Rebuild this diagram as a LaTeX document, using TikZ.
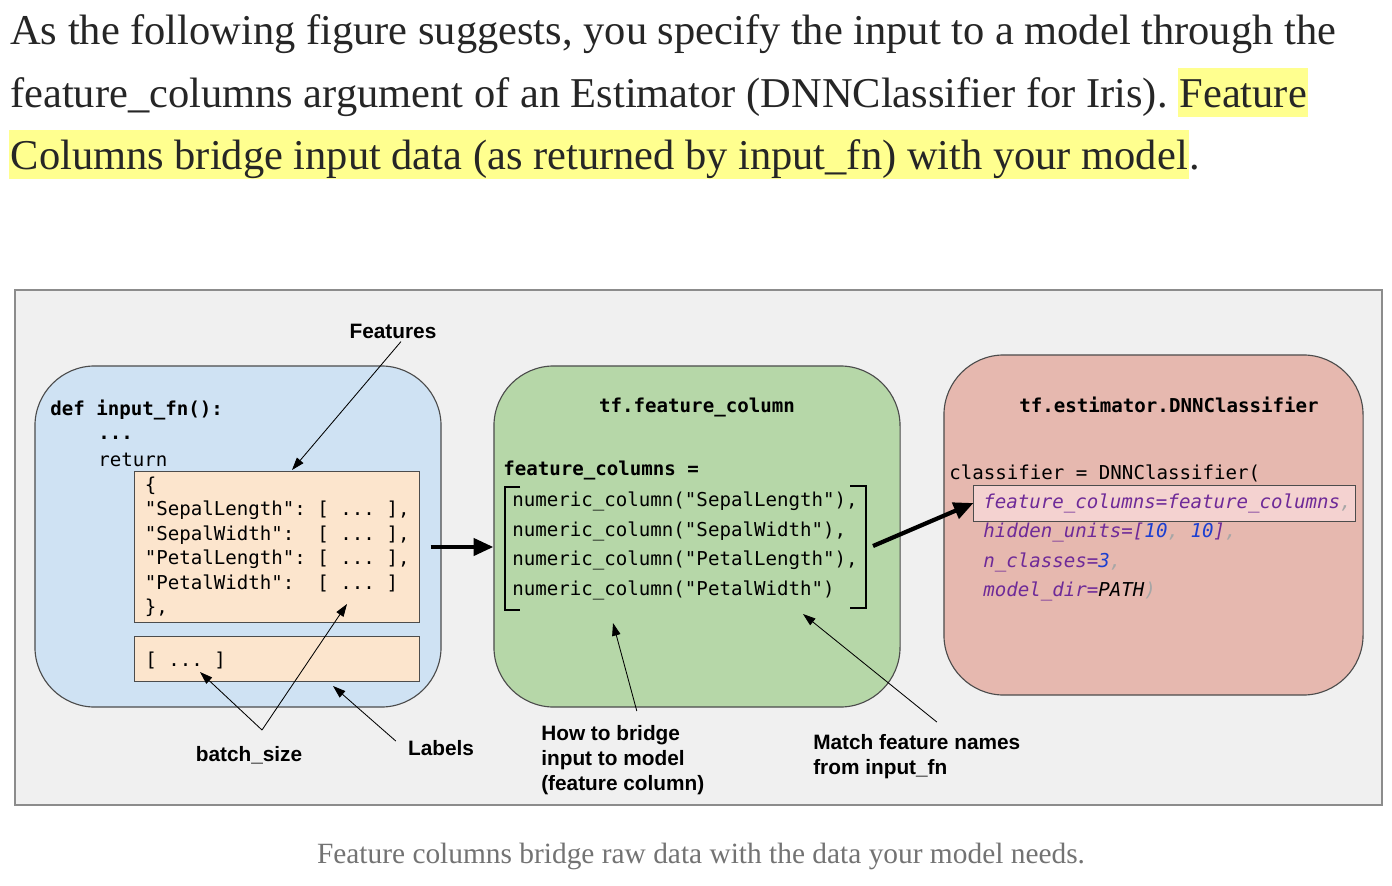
\documentclass[tikz,border=0pt]{standalone}
\usepackage{fontspec}
\setmainfont{Liberation Serif}
\setsansfont{Liberation Sans}
\setmonofont{DejaVu Sans Mono}
\usetikzlibrary{positioning, calc, arrows.meta}

\definecolor{paneback}{HTML}{F0F0F0}
\definecolor{inputblue}{HTML}{CFE2F3}
\definecolor{columngreen}{HTML}{B6D7A8}
\definecolor{modelred}{HTML}{E6B8AF}
\definecolor{dictorange}{HTML}{FCE5CD}
\definecolor{argpink}{HTML}{F4D2D0}
\definecolor{kwpurple}{HTML}{6E2A98}
\definecolor{numblue}{HTML}{1C3FD0}
\definecolor{markyellow}{HTML}{FFFF8F}
\definecolor{bodytext}{HTML}{262626}

\tikzset{
  para/.style={font=\fontsize{30.2}{40}\selectfont, text=bodytext, inner sep=0, anchor=base west},
  marked/.style={fill=markyellow, inner xsep=1pt, inner ysep=0, text height=1.0cm, text depth=0.22cm},
  box/.style={draw=black!70, line width=0.8pt, rounded corners=1.5cm},
  inbox/.style={draw=black!70, fill=dictorange, line width=0.7pt},
  code/.style={font=\fontsize{13.6}{21}\selectfont\ttfamily, align=left, inner sep=0},
  tag/.style={font=\fontsize{14.8}{17.8}\selectfont\sffamily\bfseries, align=left, inner sep=0},
  pointer/.style={-{Triangle[length=9pt,width=6pt]}, line width=0.6pt},
  flow/.style={-{Triangle[length=14pt,width=12pt]}, line width=3pt},
}

\begin{document}
\begin{tikzpicture}[x=0.025cm, y=-0.025cm]
    \fill[white] (0,0) rectangle (1392,886);
    \useasboundingbox (0,0) rectangle (1392,886);

    % Paragraph
    \node[para] (line1) at (10,45) {As the following figure suggests, you specify the input to a model through the};
    \node[para] (line2) at (10,108) {feature\_columns argument of an Estimator (DNNClassifier for Iris).};
    \node[para, marked] (line2b) at ($(line2.base east)+(10,0)$) {Feature};
    \node[para, marked] (line3) at (9,170) {Columns bridge input data (as returned by input\_fn) with your model};
    \node[para] (line3b) at (line3.base east) {.};

    % Frame
    \draw[draw=black!45, fill=paneback, line width=0.8pt] (15,290) rectangle (1382,805);

    % Boxes
    \node[box, fill=inputblue, minimum width=10.15cm, minimum height=8.525cm] (inputbox) at (238,536.5) {};
    \node[box, fill=columngreen, minimum width=10.15cm, minimum height=8.525cm] (colbox) at (697,536.5) {};
    \node[box, fill=modelred, minimum width=10.475cm, minimum height=8.5cm] (modelbox) at (1153.5,525) {};

    % input_fn
    \node[code, font=\fontsize{13.6}{21}\selectfont\ttfamily\bfseries, anchor=west] (defline) at (50,410) {def input\_fn():};
    \node[code, font=\fontsize{13.6}{21}\selectfont\ttfamily\bfseries, anchor=west] (dots) at (98,438) {...};
    \node[code, anchor=west] (ret) at (98,460) {return};
    \node[inbox, minimum width=7.1cm, minimum height=3.75cm] (feats) at (277,547) {};
    \node[code, font=\fontsize{13.6}{17.4}\selectfont\ttfamily, anchor=north west] (dict) at ($(feats.north west)+(10,5)$)
        {\{\\"SepalLength": [ ... ],\\"SepalWidth":~ [ ... ],\\"PetalLength": [ ... ],\\"PetalWidth":~ [ ... ]\\\},};
    \node[inbox, minimum width=7.1cm, minimum height=1.125cm] (lbls) at (277,658.5) {};
    \node[code, anchor=west] (lblcode) at (145,660) {[ ... ]};

    % feature columns
    \node[code, font=\fontsize{13.6}{21}\selectfont\ttfamily\bfseries] (coltitle) at (697,407) {tf.feature\_column};
    \node[code, font=\fontsize{13.6}{21}\selectfont\ttfamily\bfseries, anchor=west] (colvar) at (503,470) {feature\_columns =};
    \node[code, anchor=west] (numcols) at (512,546)
        {numeric\_column("SepalLength"),\\numeric\_column("SepalWidth"),\\numeric\_column("PetalLength"),\\numeric\_column("PetalWidth")};
    \draw[line width=1.3pt] (520,487) -- (505,487) -- (505,610) -- (520,610);
    \draw[line width=1.3pt] (850,486) -- (866,486) -- (866,608) -- (850,608);

    % classifier
    \node[code, font=\fontsize{13.6}{21}\selectfont\ttfamily\bfseries] (modeltitle) at (1169,405) {tf.estimator.DNNClassifier};
    \node[code, anchor=west] (clsline) at (949,473) {classifier = DNNClassifier(};
    \node[draw=black!70, fill=argpink, line width=0.7pt, minimum width=9.525cm, minimum height=0.9cm] (argbox) at (1164.5,503) {};
    \node[code, font=\fontsize{13.6}{21}\selectfont\ttfamily\itshape, anchor=west] (arg1) at (983,503)
        {\color{kwpurple}feature\_columns=feature\_columns\color{black!35},};
    \node[code, font=\fontsize{13.6}{21}\selectfont\ttfamily\itshape, anchor=west] (arg2) at (983,532)
        {\color{kwpurple}hidden\_units=[\color{numblue}10\color{black!35}, \color{numblue}10\color{kwpurple}]\color{black!35},};
    \node[code, font=\fontsize{13.6}{21}\selectfont\ttfamily\itshape, anchor=west] (arg3) at (983,562)
        {\color{kwpurple}n\_classes=\color{numblue}3\color{black!35},};
    \node[code, font=\fontsize{13.6}{21}\selectfont\ttfamily\itshape, anchor=west] (arg4) at (983,591)
        {\color{kwpurple}model\_dir=\color{black}PATH\color{black!35})};

    % Flow arrows
    \coordinate (colout) at (873,546);
    \draw[flow] ($(feats.east)+(11,0)$) -- (feats.east -| colbox.west);
    \draw[flow] (colout) -- (argbox.west);

    % Labels
    \node[tag] (featlbl) at (393,331) {Features};
    \node[tag] (batchlbl) at (249,755) {batch\_size};
    \node[tag] (lblslbl) at (441,748) {Labels};
    \node[tag, anchor=west] (howlbl) at (541,760) {How to bridge\\input to model\\(feature column)};
    \node[tag, anchor=west] (matchlbl) at (813,756.5) {Match feature names\\from input\_fn};

    % Pointers
    \coordinate (featpt) at (292,470);
    \coordinate (batchpt) at (262,730);
    \coordinate (lblpt) at (200,672);
    \coordinate (sizept) at (347,604);
    \coordinate (lblspt) at (333,686);
    \coordinate (howpt) at (613,623);
    \coordinate (matchpt) at (803,614);
    \draw[pointer] ($(featlbl.south)+(8,3)$) -- (featpt);
    \draw[pointer] (batchpt) -- (lblpt);
    \draw[pointer] (batchpt) -- (sizept);
    \draw[pointer] ($(lblslbl.west)+(-12,-7)$) -- (lblspt);
    \draw[pointer] ($(howlbl.north)+(14,-14)$) -- (howpt);
    \draw[pointer] ($(matchlbl.north)+(20,-12)$) -- (matchpt);

    % Caption
    \node[font=\fontsize{20.9}{25}\selectfont, text=black!55, inner sep=0] (caption) at (701,856)
        {Feature columns bridge raw data with the data your model needs.};
\end{tikzpicture}
\end{document}
